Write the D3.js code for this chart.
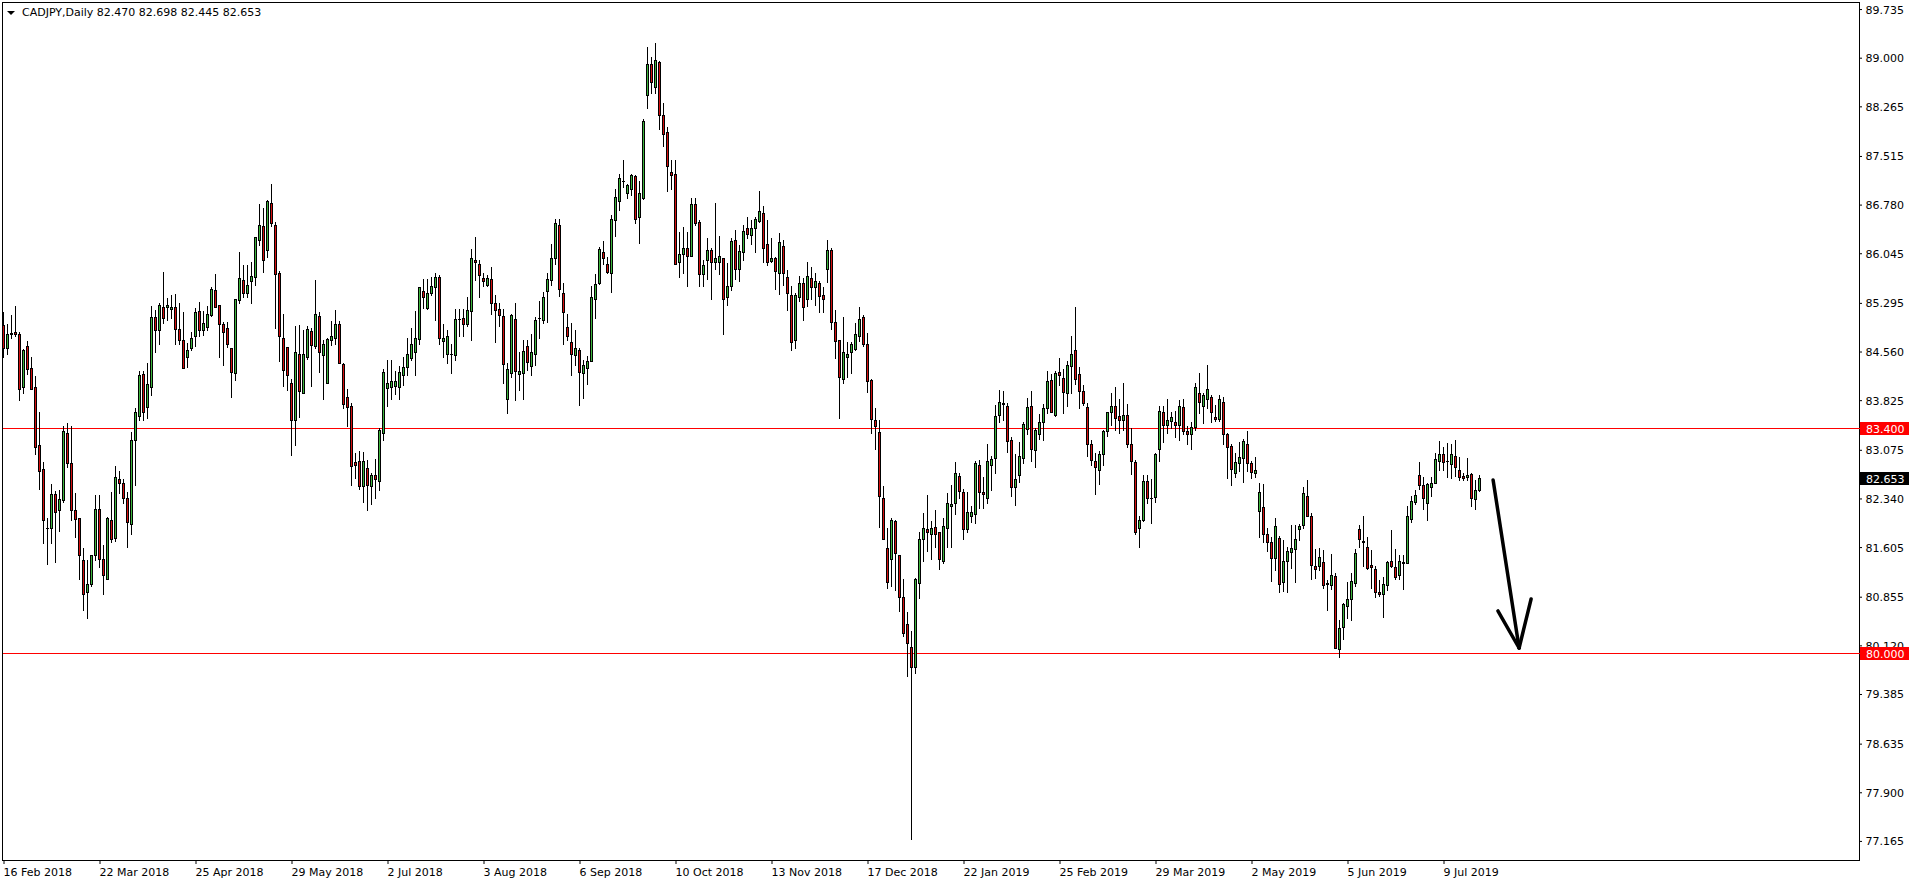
<!DOCTYPE html>
<html><head><meta charset="utf-8">
<script src="https://cdn.jsdelivr.net/npm/d3@7"></script>
<style>html,body{margin:0;padding:0;background:#fff;overflow:hidden}svg text{font-family:"DejaVu Sans",sans-serif;font-size:11px}</style>
</head><body>
<svg id="c" width="1916" height="884"></svg>
<script>
const symbolTitle = "CADJPY,Daily";
const lastQuote = [82.470, 82.698, 82.445, 82.653];

const open = [84.96,84.61,84.83,84.86,84.82,84.02,84.65,84.31,84.02,83.14,
82.79,81.90,81.89,82.41,82.16,82.31,83.33,82.87,82.16,82.04,
81.41,80.92,81.04,81.48,82.18,81.42,81.13,82.01,81.74,82.64,
82.58,82.34,81.96,83.23,83.58,84.22,83.72,84.03,85.08,84.88,
85.23,85.24,85.21,85.23,84.90,84.73,84.47,84.61,84.80,85.17,
84.89,84.93,85.11,85.49,85.26,84.97,84.92,84.61,84.23,85.34,
85.64,85.45,85.63,85.68,86.25,86.45,86.09,86.80,86.47,85.75,
84.76,84.63,84.09,83.52,84.52,83.94,84.47,84.87,84.64,85.10,
84.50,84.09,84.73,84.76,84.98,84.37,83.88,83.74,82.89,82.91,
82.53,82.80,82.53,82.70,82.60,83.33,84.01,84.02,84.04,84.03,
84.20,84.33,84.46,84.56,84.75,85.47,85.22,85.44,85.53,85.68,
84.72,84.52,84.53,84.50,85.05,85.06,84.97,85.17,85.94,85.88,
85.67,85.56,85.66,85.30,85.20,85.10,83.85,84.23,85.05,84.22,
84.23,84.64,84.34,84.52,85.06,85.04,85.48,85.64,85.98,86.47,
85.45,84.93,84.71,84.50,84.58,84.24,84.31,84.42,85.36,85.59,
86.06,85.88,85.75,86.54,86.84,87.13,86.95,87.02,87.21,86.59,
86.88,88.43,88.90,88.56,88.93,88.13,87.87,87.27,87.25,85.92,
86.03,86.12,86.01,86.79,86.51,85.73,85.95,86.10,85.91,85.91,
85.97,85.39,85.55,86.24,85.80,86.07,86.42,86.32,86.42,86.53,
86.66,86.19,85.93,85.97,85.74,86.16,85.69,85.42,84.73,85.39,
85.60,85.35,85.67,85.54,85.59,85.42,85.80,86.09,85.00,84.73,
84.15,84.47,84.55,84.60,84.80,85.08,84.67,84.13,83.52,83.34,
82.34,81.59,81.43,82.00,81.49,80.85,80.45,80.09,79.80,81.06,
81.73,81.88,81.80,81.91,81.83,81.40,81.89,82.23,82.27,82.68,
82.43,81.88,82.08,82.11,82.85,82.43,82.34,82.84,82.95,83.60,
83.77,83.74,83.22,82.52,82.70,82.95,83.39,83.73,83.07,83.32,
83.49,83.70,84.13,83.60,84.25,84.16,83.94,84.34,84.58,84.22,
83.96,83.72,83.16,82.90,82.77,83.01,83.36,83.64,83.73,83.59,
83.53,83.60,83.17,82.89,81.90,82.02,82.61,82.35,82.36,83.08,
83.64,83.45,83.51,83.50,83.45,83.72,83.36,83.32,83.42,83.94,
83.74,83.85,83.88,83.57,83.54,83.79,83.31,83.13,82.73,82.87,
82.95,83.17,82.87,82.72,82.15,82.21,81.80,81.68,81.44,81.74,
81.07,81.40,81.53,81.57,81.88,81.94,82.38,82.07,81.32,81.32,
81.38,81.06,81.03,81.17,80.07,80.39,80.72,80.82,81.06,81.88,
81.70,81.60,81.33,81.28,80.92,80.89,81.03,81.39,81.30,81.18,
81.36,81.37,82.03,82.28,82.69,82.54,82.27,82.51,82.58,82.91,
83.01,82.90,82.86,82.98,82.77,82.68,82.67,82.71,82.33,82.470];

const high = [85.16,84.98,85.11,85.25,84.86,84.60,84.72,84.47,84.19,83.65,
82.89,82.04,82.56,82.45,82.46,83.44,83.48,83.44,82.42,82.04,
81.59,81.41,81.48,82.39,82.39,81.64,82.06,82.44,82.83,82.76,
82.64,82.43,83.35,83.70,84.27,84.26,84.38,85.25,85.19,85.30,
85.76,85.37,85.41,85.43,85.29,85.16,84.69,84.86,85.22,85.31,
85.17,85.25,85.53,85.73,85.26,85.01,85.00,84.61,85.35,86.06,
85.86,85.87,85.91,86.29,86.79,86.73,86.85,87.09,86.52,85.77,
85.13,84.63,84.14,84.95,84.96,84.89,84.95,84.92,85.64,85.16,
84.74,84.77,85.02,85.18,85.02,84.38,84.00,83.78,83.02,83.05,
83.04,82.92,82.72,82.93,83.40,84.29,84.43,84.43,84.26,84.34,
84.48,84.76,84.91,85.17,85.54,85.66,85.66,85.69,85.75,85.71,
84.98,84.88,84.67,85.20,85.21,85.21,85.39,86.11,86.29,85.94,
85.74,85.71,85.84,85.41,85.29,85.21,84.38,85.12,85.30,84.55,
84.74,84.73,84.83,85.08,85.33,85.46,85.75,86.18,86.56,86.57,
85.59,85.13,84.99,84.88,84.61,84.43,84.49,85.55,85.73,86.14,
86.23,85.99,86.62,87.02,87.24,87.45,87.09,87.25,87.23,87.14,
88.07,89.16,89.01,89.22,88.95,88.31,87.96,87.45,87.45,86.37,
86.44,86.37,86.88,86.88,86.55,85.94,86.28,86.12,86.80,86.31,
85.98,85.90,86.27,86.39,86.17,86.47,86.59,86.55,86.60,86.98,
86.76,86.55,86.28,85.99,86.35,86.24,85.79,85.55,85.45,85.70,
85.67,85.92,85.84,85.75,85.63,85.53,86.25,86.12,85.19,84.73,
85.08,84.71,84.70,84.99,85.23,85.11,84.84,84.14,83.70,83.52,
82.53,81.90,82.05,82.02,81.49,81.12,80.62,80.34,81.14,81.83,
82.12,82.39,82.00,82.16,81.83,82.05,82.42,82.55,82.89,82.73,
82.49,82.43,82.23,82.91,82.92,82.66,83.17,82.98,83.75,83.98,
83.96,83.78,83.27,83.01,83.19,83.49,83.86,83.96,83.40,83.61,
83.76,84.26,84.22,84.27,84.46,84.29,84.42,84.79,85.24,84.33,
84.05,83.78,83.22,83.03,83.05,83.37,83.65,83.93,84.02,83.85,
84.08,83.76,83.40,82.92,82.08,82.70,82.70,82.64,83.03,83.74,
83.74,83.85,83.65,83.66,83.82,83.84,83.44,83.49,84.09,84.23,
83.93,84.36,83.90,83.75,83.91,83.88,83.33,83.16,83.02,83.19,
83.24,83.36,82.91,82.97,82.57,82.56,81.89,81.76,82.04,81.77,
81.71,81.61,81.94,81.94,81.96,82.52,82.62,82.12,81.57,81.59,
81.56,81.11,81.50,81.22,80.51,80.76,81.07,81.21,81.57,81.94,
82.08,81.75,81.56,81.32,81.11,81.16,81.40,81.86,81.57,81.48,
81.48,82.23,82.37,82.46,82.89,82.67,82.58,82.67,83.02,83.21,
83.12,83.18,83.16,83.22,82.97,82.72,82.95,82.73,82.62,82.698];

const low = [84.47,84.53,84.77,84.79,83.83,83.94,84.22,83.99,83.01,82.49,
81.66,81.35,81.66,81.38,81.85,82.28,82.81,82.01,81.75,81.13,
80.66,80.53,81.01,81.41,81.30,80.89,81.13,81.68,81.69,82.42,
82.27,81.61,81.81,82.55,83.53,83.53,83.55,83.90,84.56,84.68,
84.99,85.03,85.06,84.67,84.68,84.31,84.32,84.58,84.64,84.79,
84.81,84.89,85.10,85.24,84.47,84.36,84.63,83.88,84.13,85.30,
85.39,85.39,85.30,85.57,86.17,85.76,85.99,86.45,84.91,84.42,
84.04,83.98,82.99,83.14,83.57,83.93,84.45,84.04,84.61,84.25,
83.85,84.09,84.66,84.67,84.39,83.70,83.44,82.55,82.65,82.48,
82.28,82.16,82.25,82.34,82.46,83.23,83.73,83.85,83.92,83.85,
84.05,84.20,84.43,84.20,84.67,85.22,85.21,85.41,85.04,84.68,
84.48,84.38,84.24,84.43,84.79,84.79,84.95,84.73,85.64,85.39,
85.55,85.55,85.13,84.71,84.94,84.08,83.63,84.18,83.83,83.98,
83.84,84.28,84.20,84.36,84.76,84.99,85.01,85.57,85.89,85.40,
84.68,84.74,84.20,84.35,83.75,83.86,84.07,84.41,85.07,85.58,
85.89,85.74,85.46,86.31,86.70,87.05,86.88,86.92,86.50,86.20,
86.87,88.24,88.46,88.47,87.93,87.67,86.99,87.01,85.89,85.68,
85.75,85.55,86.01,86.47,85.55,85.55,85.65,85.36,85.81,85.73,
84.83,85.27,85.49,85.66,85.63,85.95,86.28,86.18,86.07,86.52,
85.92,85.87,85.92,85.51,85.43,85.57,85.19,84.59,84.62,85.33,
85.04,85.25,85.36,85.26,85.15,85.16,85.61,84.90,84.46,83.55,
84.08,84.18,84.23,84.58,84.72,84.65,83.95,83.33,83.08,81.91,
81.73,80.99,81.02,80.95,80.64,80.26,79.65,77.19,79.70,80.84,
81.40,81.55,81.42,81.61,81.27,81.36,81.60,81.60,82.10,82.34,
81.72,81.84,81.98,81.97,82.20,82.19,82.27,82.47,82.72,83.50,
83.53,83.04,82.38,82.24,82.59,82.88,83.31,82.91,82.81,83.24,
83.22,83.63,83.64,83.58,84.05,83.63,83.74,83.93,84.07,83.70,
83.75,82.98,82.84,82.40,82.56,82.85,83.28,83.45,83.38,83.33,
83.38,83.11,82.71,81.80,81.61,82.00,82.27,81.97,82.29,82.90,
83.20,83.33,83.40,83.27,83.22,83.32,83.16,83.08,83.38,83.63,
83.48,83.71,83.50,83.51,83.51,83.17,82.65,82.55,82.67,82.75,
82.59,82.75,82.65,82.67,81.76,81.68,81.55,81.09,81.26,80.92,
80.94,80.92,81.29,81.07,81.71,81.89,82.07,81.13,81.14,81.26,
80.99,80.65,80.97,80.08,79.95,80.21,80.54,80.51,81.02,81.61,
81.32,81.27,80.98,80.85,80.87,80.55,80.96,81.31,81.12,81.12,
80.97,81.36,81.99,82.25,82.48,82.18,82.01,82.37,82.57,82.77,
82.77,82.67,82.65,82.68,82.62,82.62,82.62,82.23,82.18,82.445];

const close = [84.62,84.82,84.84,84.83,83.99,84.59,84.29,84.00,83.11,82.76,
82.02,81.89,82.41,82.13,82.33,83.36,82.87,82.17,82.03,81.48,
80.89,81.04,81.48,82.18,81.42,81.19,82.05,81.72,82.66,82.58,
82.34,81.99,83.23,83.64,84.21,83.64,84.07,85.08,84.89,85.26,
85.07,85.27,85.23,84.90,84.73,84.31,84.58,84.77,85.15,84.89,
84.99,85.12,85.51,85.24,84.98,84.86,84.67,84.25,85.35,85.67,
85.45,85.56,85.70,86.29,86.47,85.94,86.83,86.50,85.73,84.80,
84.28,84.20,83.52,84.56,83.97,84.52,84.90,84.66,85.12,84.55,
84.67,84.75,84.79,84.98,84.39,83.76,83.72,82.83,82.85,82.53,
82.90,82.54,82.69,82.63,83.38,84.25,84.08,84.12,84.11,84.25,
84.32,84.53,84.68,84.76,85.53,85.39,85.45,85.55,85.68,84.76,
84.77,84.79,84.52,85.05,85.05,84.97,85.18,85.97,85.92,85.71,
85.63,85.67,85.30,85.19,85.11,84.37,84.30,85.11,84.26,84.26,
84.57,84.40,84.55,85.03,85.06,85.38,85.65,85.98,86.50,85.51,
85.15,84.80,84.52,84.61,84.25,84.35,84.41,85.39,85.58,86.11,
85.97,85.76,86.56,86.90,87.18,87.14,87.07,87.22,86.57,86.95,
88.04,88.91,88.64,88.96,88.14,87.84,87.36,87.22,85.89,86.04,
86.13,86.01,86.79,86.50,85.73,85.86,86.10,85.92,85.97,86.00,
85.35,85.55,86.23,85.80,86.08,86.38,86.33,86.42,86.57,86.69,
86.13,85.91,85.98,85.78,86.21,85.75,85.45,84.71,85.42,85.60,
85.24,85.70,85.54,85.62,85.40,85.36,86.09,85.01,84.72,84.18,
84.56,84.53,84.67,84.82,85.05,84.67,84.12,83.54,83.44,82.38,
81.73,81.07,82.02,81.51,80.85,80.30,80.15,79.80,81.12,81.73,
81.90,81.84,81.90,81.80,81.42,81.92,82.27,82.26,82.73,82.45,
81.88,82.13,82.13,82.88,82.43,82.40,82.90,82.93,83.58,83.80,
83.78,83.21,82.51,82.63,82.98,83.47,83.72,83.08,83.37,83.50,
83.70,84.11,83.65,84.24,84.20,83.95,84.35,84.53,84.14,83.97,
83.78,83.16,82.92,82.81,83.01,83.36,83.64,83.73,83.55,83.53,
83.60,83.16,82.91,81.84,82.02,82.61,82.34,82.35,83.01,83.66,
83.45,83.53,83.57,83.45,83.73,83.36,83.32,83.42,84.03,83.80,
83.90,83.99,83.65,83.54,83.85,83.32,83.11,82.78,82.89,82.97,
83.21,82.88,82.74,82.77,82.43,81.81,81.68,81.44,81.93,81.04,
81.40,81.54,81.59,81.72,81.93,82.42,82.08,81.33,81.28,81.45,
81.03,81.04,81.19,80.08,80.38,80.74,80.82,81.10,81.51,81.73,
81.68,81.29,81.30,80.92,80.90,81.04,81.38,81.32,81.15,81.39,
81.38,82.08,82.30,82.39,82.54,82.34,82.56,82.58,82.93,83.01,
82.89,82.90,83.01,82.81,82.67,82.65,82.70,82.35,82.47,82.653];

const dateTickIndex = [0,24,48,72,96,120,144,168,192,216,240,264,288,312,336,360];
const dateTickLabels = ["16 Feb 2018","22 Mar 2018","25 Apr 2018","29 May 2018","2 Jul 2018","3 Aug 2018",
  "6 Sep 2018","10 Oct 2018","13 Nov 2018","17 Dec 2018","22 Jan 2019","25 Feb 2019","29 Mar 2019",
  "2 May 2019","5 Jun 2019","9 Jul 2019"];
const priceTicks = [89.735,89.000,88.265,87.515,86.780,86.045,85.295,84.560,83.825,83.075,82.340,81.605,80.855,80.120,79.385,78.635,77.900,77.165];
const levels = [83.400, 80.000];
// arrow annotation, in (bar index, price)
const arrowShaft = [[372.4, 82.62],[378.9, 80.08]];
const arrowHeadL = [[373.6, 80.64],[378.9, 80.08]];
const arrowHeadR = [[381.9, 80.82],[378.9, 80.08]];

const L = 2.5, T = 2.5, R = 1859.5, B = 860.5;
const bull = "#3cb43c", bear = "#d40f0f";

const svg = d3.select("#c");
const x = d3.scaleLinear().domain([0, 369]).range([3.5, 3.5 + 369*4]);
const y = d3.scaleLinear().domain([76.869, 89.834]).range([B, T]);
const yr = p => Math.round(y(p));

svg.append("rect").attr("x", L).attr("y", T).attr("width", R-L).attr("height", B-T)
  .attr("fill", "#fff").attr("stroke", "#000").attr("stroke-width", 1);

const plot = svg.append("g").attr("shape-rendering", "crispEdges");

plot.selectAll("line.level").data(levels).enter().append("line")
  .attr("x1", L+0.5).attr("x2", R).attr("y1", d => yr(d)+0.5).attr("y2", d => yr(d)+0.5)
  .attr("stroke", "#ff0000").attr("stroke-width", 1);

const bars = d3.range(open.length).map(i => ({i, o: open[i], h: high[i], l: low[i], c: close[i]}));
const g = plot.selectAll("g.bar").data(bars).enter().append("g");
g.append("line")
  .attr("x1", d => x(d.i)).attr("x2", d => x(d.i))
  .attr("y1", d => yr(d.h)).attr("y2", d => yr(d.l)+1)
  .attr("stroke", "#000").attr("stroke-width", 1);
g.append("rect")
  .attr("x", d => x(d.i)-1.5).attr("width", 3)
  .attr("y", d => yr(Math.max(d.o, d.c)))
  .attr("height", d => Math.max(1, yr(Math.min(d.o, d.c)) - yr(Math.max(d.o, d.c)) + 1))
  .attr("fill", "#000");
g.append("rect")
  .attr("x", d => x(d.i)-0.5).attr("width", 1)
  .attr("y", d => yr(Math.max(d.o, d.c))+1)
  .attr("height", d => Math.max(0, yr(Math.min(d.o, d.c)) - yr(Math.max(d.o, d.c)) - 1))
  .attr("fill", d => d.c >= d.o ? bull : bear);

const ln = d3.line().x(d => x(d[0])).y(d => y(d[1]));
[arrowShaft, arrowHeadL, arrowHeadR].forEach(seg => {
  svg.append("path").attr("d", ln(seg)).attr("fill", "none").attr("stroke", "#000")
    .attr("stroke-width", 3.5).attr("stroke-linecap", "round");
});

const ay = svg.append("g").attr("transform", `translate(${R-0.5},0)`)
  .call(d3.axisRight(y).tickValues(priceTicks).tickSize(3).tickPadding(3).tickFormat(d3.format(".3f")));
ay.select(".domain").remove();
ay.selectAll("text").attr("dy", null).attr("y", 4).attr("x", 6.5).attr("fill", "#000")
  .style("font-family", "'DejaVu Sans',sans-serif").style("font-size", "11px");
ay.selectAll("line").attr("stroke", "#000");

const ax = svg.append("g").attr("transform", `translate(0,${B-0.5})`)
  .call(d3.axisBottom(x).tickValues(dateTickIndex).tickSize(4).tickFormat((d,k) => dateTickLabels[k]));
ax.select(".domain").remove();
ax.selectAll("text").attr("dy", null).attr("y", 16).attr("x", -0.5).attr("text-anchor", "start").attr("fill", "#000")
  .style("font-family", "'DejaVu Sans',sans-serif").style("font-size", "11px");
ax.selectAll("line").attr("stroke", "#000");

const tags = [{v: levels[0], bg: "#ff0000"}, {v: levels[1], bg: "#ff0000"}, {v: lastQuote[3], bg: "#000000"}];
const tg = svg.selectAll("g.tag").data(tags).enter().append("g");
tg.append("rect").attr("x", R+0.5).attr("width", 49).attr("y", d => yr(d.v)-6).attr("height", 13)
  .attr("fill", d => d.bg).attr("shape-rendering", "crispEdges");
tg.append("text").attr("x", R+6.5).attr("y", d => yr(d.v)+4.5).attr("fill", "#fff")
  .text(d => d3.format(".3f")(d.v));

svg.append("path").attr("d", "M7,11 L15,11 L11,15 Z").attr("fill", "#000");
svg.append("text").attr("x", 22).attr("y", 16).attr("fill", "#000")
  .text(symbolTitle + "  " + lastQuote.map(d3.format(".3f")).join(" "));
</script>
</body></html>
